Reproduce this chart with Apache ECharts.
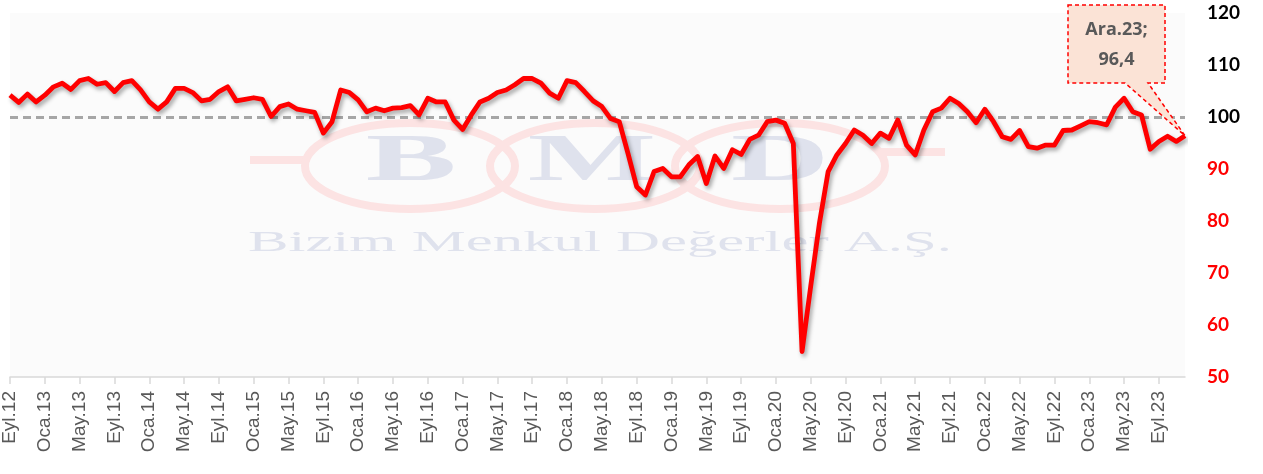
<!DOCTYPE html>
<html><head><meta charset="utf-8">
<script src="https://cdn.jsdelivr.net/npm/echarts@6/dist/echarts.min.js"></script>
<style>html,body{margin:0;padding:0;background:#fff}#c{width:1263px;height:474px}</style>
</head><body><div id="c"></div>
<script>
// ---- data ----
const MONTHS = ['Oca','Şub','Mar','Nis','May','Haz','Tem','Ağu','Eyl','Eki','Kas','Ara'];
const START_YEAR = 2012;
const START_MONTH = 8; // Eyl (0-based)
const values = [
 104.2,102.8,104.4,102.9,104.2,105.8,106.5,105.3,107.0,107.4,106.3,106.6,
 104.9,106.6,107.0,105.2,102.9,101.5,102.9,105.5,105.5,104.7,103.1,103.4,
 104.9,105.8,103.1,103.4,103.7,103.4,100.1,102.0,102.5,101.5,101.2,100.9,
 96.9,99.1,105.2,104.7,103.3,101.0,101.7,101.2,101.7,101.8,102.2,100.4,
 103.6,102.9,102.9,99.4,97.6,100.4,102.9,103.6,104.7,105.2,106.2,107.4,
 107.4,106.5,104.6,103.6,107.0,106.6,104.9,103.1,102.0,99.7,99.1,93.0,
 86.6,85.0,89.5,90.1,88.5,88.5,90.8,92.4,87.2,92.5,90.1,93.7,
 92.8,95.7,96.5,99.1,99.4,98.8,94.9,54.9,67.5,79.6,89.5,92.7,
 94.9,97.5,96.5,94.9,96.9,95.9,99.4,94.6,92.7,97.5,101.0,101.7,
 103.6,102.6,101.0,98.9,101.5,99.1,96.2,95.7,97.4,94.3,94.0,94.6,
 94.6,97.4,97.5,98.3,99.1,98.9,98.5,101.9,103.6,101.0,100.4,93.8,
 95.3,96.3,95.3,96.4
];
const refLevel = [100];
const yMin = 50, yMax = 120, yStep = 10;
const annotationLines = ['Ara.23;', '96,4'];

const categories = values.map((v, i) => {
  const k = START_MONTH + i;
  return MONTHS[k % 12] + '.' + String(START_YEAR + Math.floor(k / 12)).slice(2);
});

function measure(font, text) {
  const c = document.createElement('canvas').getContext('2d');
  c.font = font; return c.measureText(text).width;
}

const WM_LETTER = '#dfe2ed';
const WM_RING = '#fce3e3';
const wmFont = '30px "Liberation Serif"';
const wmText = 'Bizim Menkul Değerler A.Ş.';
const wmScale = 704 / measure(wmFont, wmText);

const watermark = [
  {type:'line', z:1, silent:true, shape:{x1:250,y1:160,x2:306,y2:160}, style:{stroke:WM_RING,lineWidth:8}},
  {type:'ellipse', z:1, silent:true, shape:{cx:410,cy:166,rx:105,ry:43}, style:{fill:null,stroke:WM_RING,lineWidth:8}},
  {type:'ellipse', z:1, silent:true, shape:{cx:595,cy:166,rx:105,ry:43}, style:{fill:null,stroke:WM_RING,lineWidth:8}},
  {type:'ellipse', z:1, silent:true, shape:{cx:780,cy:166,rx:105,ry:43}, style:{fill:null,stroke:WM_RING,lineWidth:8}},
  {type:'line', z:1, silent:true, shape:{x1:880,y1:152,x2:945,y2:152}, style:{stroke:WM_RING,lineWidth:8}},
  {type:'text', z:1, silent:true, x:411, y:162, scaleX:2, style:{text:'B', font:'bold 68px "Liberation Serif"', fill:WM_LETTER, align:'center', verticalAlign:'middle'}},
  {type:'text', z:1, silent:true, x:592, y:162, scaleX:2, style:{text:'M', font:'bold 68px "Liberation Serif"', fill:WM_LETTER, align:'center', verticalAlign:'middle'}},
  {type:'text', z:1, silent:true, x:780, y:162, scaleX:2, style:{text:'D', font:'bold 68px "Liberation Serif"', fill:WM_LETTER, align:'center', verticalAlign:'middle'}},
  {type:'text', z:1, silent:true, x:600, y:243, scaleX:wmScale, style:{text:wmText, font:wmFont, fill:WM_LETTER, align:'center', verticalAlign:'middle'}}
];

const chart = echarts.init(document.getElementById('c'));
chart.setOption({
  animation:false,
  backgroundColor:'#ffffff',
  grid:{left:10, right:78, top:13, bottom:97, show:true, backgroundColor:'#fbfbfb', borderWidth:0},
  xAxis:{
    type:'category', data:categories, boundaryGap:false,
    axisLine:{show:true, lineStyle:{color:'#d9d9d9', width:1.5}},
    axisTick:{show:true, interval:3, length:7, lineStyle:{color:'#d9d9d9', width:1.5}},
    axisLabel:{interval:3, rotate:90, margin:14, color:'#595959', fontSize:19, fontFamily:'Liberation Sans'},
    splitLine:{show:false}
  },
  yAxis:{
    type:'value', position:'right', min:yMin, max:yMax, interval:yStep,
    axisLine:{show:false}, axisTick:{show:false}, splitLine:{show:false},
    axisLabel:{
      margin:22, align:'left',
      formatter: v => (v >= 100 ? '{k|' + v + '}' : '{r|' + v + '}'),
      rich:{
        k:{color:'#000000', fontSize:19, fontWeight:'bold', fontFamily:'Lato'},
        r:{color:'#ff0000', fontSize:19, fontWeight:'bold', fontFamily:'Lato'}
      }
    }
  },
  series:[{
    type:'line', data:values, showSymbol:false, symbol:'none', z:3,
    lineStyle:{color:'#ff0000', width:4.8, join:'round',
      shadowColor:'rgba(0,0,0,0.35)', shadowBlur:4, shadowOffsetX:2, shadowOffsetY:3},
    markLine:{
      silent:true, symbol:'none', label:{show:false}, z:2,
      lineStyle:{color:'#a6a6a6', width:3, type:[8,5]},
      data: refLevel.map(v => ({yAxis:v}))
    }
  }],
  graphic: watermark
});

// annotation callout pointing at last point
const last = values.length - 1;
const tip = chart.convertToPixel({seriesIndex:0}, [last, values[last]]);
const bx0 = 1068, bx1 = 1165, by0 = 5, by1 = 83;
chart.setOption({
  graphic: watermark.concat([
    {type:'polygon', z:10, silent:true,
     shape:{points:[[bx0,by0],[bx1,by0],[bx1,by1],[1148,by1],[tip[0],tip[1]],[1125,by1],[bx0,by1]]},
     style:{fill:'#fbe3d6', stroke:'#ff0000', lineWidth:1.5, lineDash:[4,3]}},
    {type:'text', z:11, silent:true, x:(bx0+bx1)/2, y:30,
     style:{text:annotationLines[0], font:'bold 18px "Open Sans"', fill:'#595959', align:'center', verticalAlign:'middle'}},
    {type:'text', z:11, silent:true, x:(bx0+bx1)/2, y:60,
     style:{text:annotationLines[1], font:'bold 18px "Open Sans"', fill:'#595959', align:'center', verticalAlign:'middle'}}
  ])
});
</script>
</body></html>
